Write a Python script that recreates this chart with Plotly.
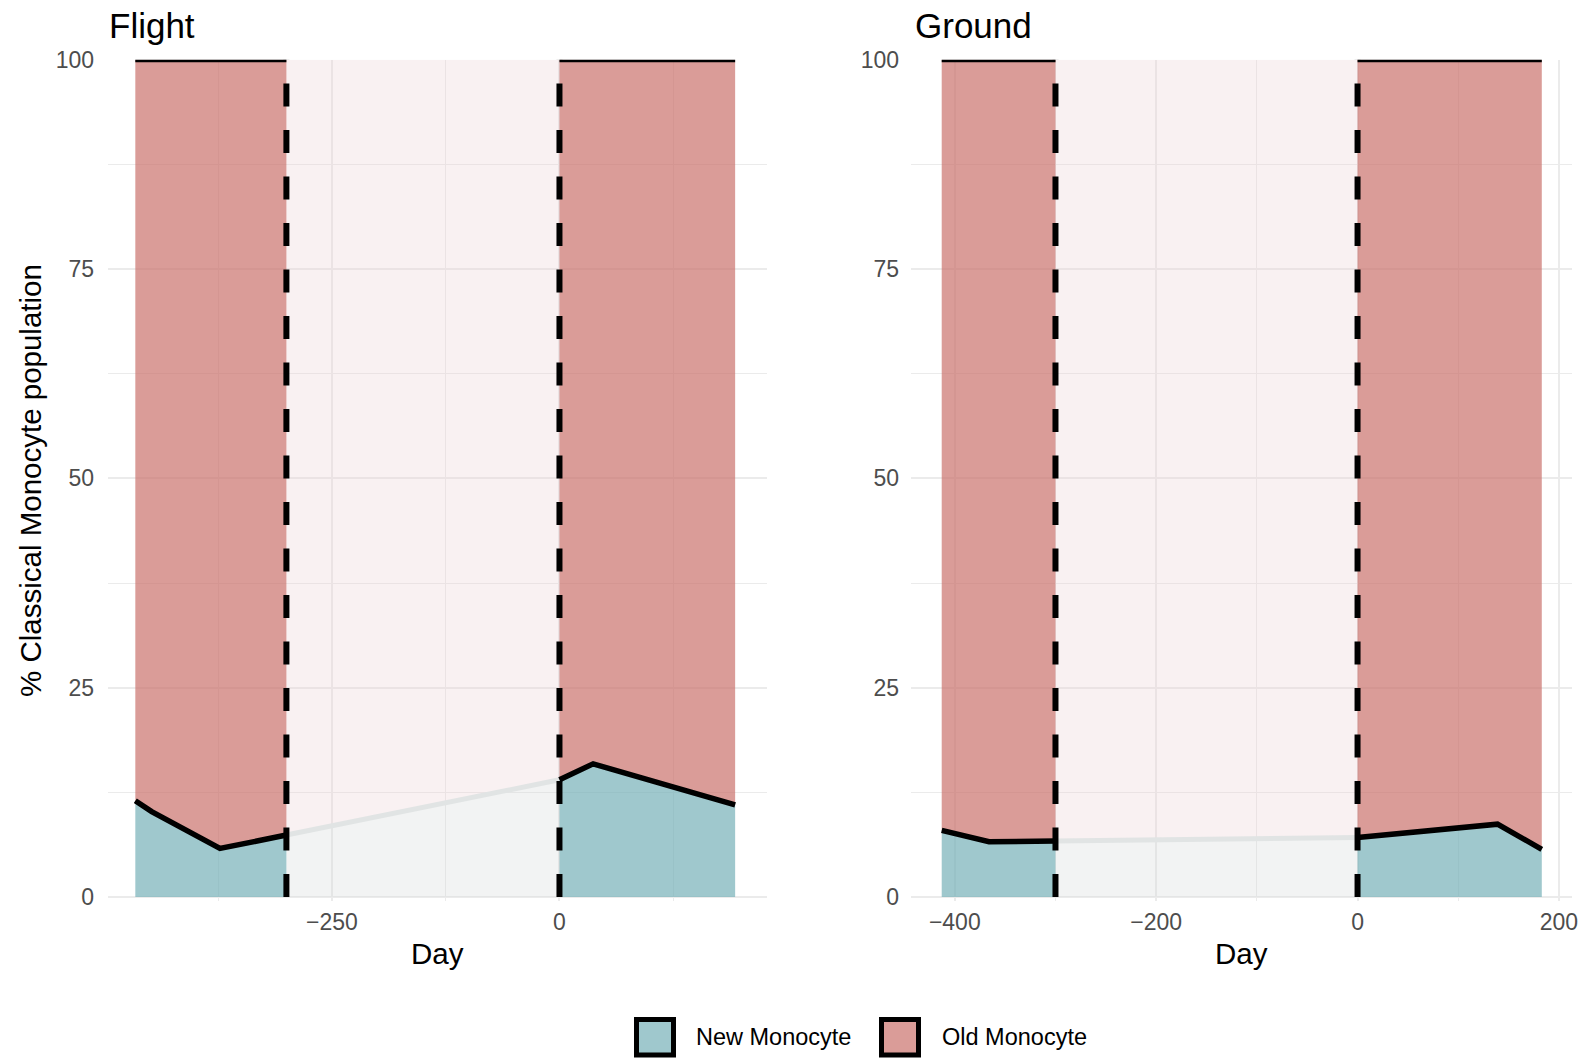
import plotly.graph_objects as go

FONT = "Liberation Sans, Arial, sans-serif"

# % of classical monocytes that are newly produced, before and after the mission
flight_pre_day = [-466, -448, -373, -300]
flight_pre_new = [11.5, 10.2, 5.8, 7.4]
flight_post_day = [0, 37, 193]
flight_post_new = [14.0, 15.9, 11.0]

ground_pre_day = [-413, -366, -300]
ground_pre_new = [7.95, 6.6, 6.7]
ground_post_day = [0, 139, 183]
ground_post_new = [7.1, 8.7, 5.7]

mission_bounds = [-300, 0]
panel_titles = ["Flight", "Ground"]
legend_labels = ["New Monocyte", "Old Monocyte"]
y_ticks = [0, 25, 50, 75, 100]

NEW_FILL = "rgba(118,176,184,0.70)"
OLD_FILL = "rgba(202,114,108,0.70)"
GAP_NEW = "rgba(212,215,215,0.30)"
GAP_OLD = "rgba(235,208,212,0.30)"
GRID = "#EBEBEB"

W, H = 1586, 1059
fig = go.Figure()


def add_panel(xa, ya, pre_d, pre_v, post_d, post_v):
    kw = dict(xaxis=xa, yaxis=ya, showlegend=False, hoverinfo="skip", mode="lines")
    # interpolated stretch across the mission (no samples)
    gd = [pre_d[-1], post_d[0]]
    gv = [pre_v[-1], post_v[0]]
    fig.add_trace(go.Scatter(x=gd, y=gv, fill="tozeroy", fillcolor=GAP_NEW,
                             line=dict(width=0), **kw))
    fig.add_trace(go.Scatter(x=gd, y=[100, 100], fill="tonexty", fillcolor=GAP_OLD,
                             line=dict(width=0), **kw))
    fig.add_trace(go.Scatter(x=gd, y=gv, line=dict(color="#E1E4E4", width=5), **kw))
    # sampled segments: new monocytes stacked under old monocytes
    for d, v in ((pre_d, pre_v), (post_d, post_v)):
        fig.add_trace(go.Scatter(x=d, y=v, fill="tozeroy", fillcolor=NEW_FILL,
                                 line=dict(width=0), **kw))
        fig.add_trace(go.Scatter(x=d, y=[100] * len(d), fill="tonexty", fillcolor=OLD_FILL,
                                 line=dict(width=0), **kw))
        fig.add_trace(go.Scatter(x=d, y=v, line=dict(color="black", width=5.5), **kw))
        fig.add_trace(go.Scatter(x=d, y=[100] * len(d), line=dict(color="black", width=5), **kw))
    # mission start / end markers
    for b in mission_bounds:
        fig.add_trace(go.Scatter(x=[b, b], y=[0, 100],
                                 line=dict(color="black", width=6, dash="23px,23.5px"), **kw))


add_panel("x", "y", flight_pre_day, flight_pre_new, flight_post_day, flight_post_new)
add_panel("x2", "y2", ground_pre_day, ground_pre_new, ground_post_day, ground_post_new)

y_dom = [1 - 901.2 / H, 1 - 59.7 / H]
tickfont = dict(family=FONT, size=23, color="#4D4D4D")
axis_common = dict(showgrid=True, gridcolor=GRID, gridwidth=2, zeroline=False,
                   showline=False, ticks="", tickfont=tickfont, automargin=False)
y_minor = dict(dtick=12.5, tick0=0, showgrid=True, gridcolor=GRID, gridwidth=1)

fig.update_layout(
    width=W, height=H,
    margin=dict(l=0, r=0, t=0, b=0, pad=0),
    paper_bgcolor="white", plot_bgcolor="white",
    font=dict(family=FONT),
    xaxis=dict(domain=[108 / W, 767 / W], range=[-496, 228], anchor="y",
               tickvals=[-250, 0], ticklabelstandoff=5,
               minor=dict(dtick=125, tick0=0, showgrid=True, gridcolor=GRID, gridwidth=1),
               **axis_common),
    yaxis=dict(domain=y_dom, range=[-0.5, 100], anchor="x", tickvals=y_ticks,
               ticklabelstandoff=13, minor=y_minor, **axis_common),
    xaxis2=dict(domain=[911 / W, 1572 / W], range=[-443.5, 213], anchor="y2",
                tickvals=[-400, -200, 0, 200], ticklabelstandoff=5,
                minor=dict(dtick=100, tick0=0, showgrid=True, gridcolor=GRID, gridwidth=1),
                **axis_common),
    yaxis2=dict(domain=y_dom, range=[-0.5, 100], anchor="x2", tickvals=y_ticks,
                ticklabelstandoff=11, minor=y_minor, **axis_common),
)

ann = []
# panel titles
for title, x in zip(panel_titles, [107, 913]):
    ann.append(dict(text=title, x=x / W, y=1 - 25 / H, xref="paper", yref="paper",
                    xanchor="left", yanchor="middle", showarrow=False,
                    font=dict(family=FONT, size=35, color="black")))
# x-axis titles
for x in [437, 1241]:
    ann.append(dict(text="Day", x=x / W, y=1 - 953 / H, xref="paper", yref="paper",
                    xanchor="center", yanchor="middle", showarrow=False,
                    font=dict(family=FONT, size=29.5, color="black")))
# y-axis title
ann.append(dict(text="% Classical Monocyte population", x=30 / W, y=1 - 481 / H,
                xref="paper", yref="paper", xanchor="center", yanchor="middle",
                textangle=-90, showarrow=False,
                font=dict(family=FONT, size=29.5, color="black")))

# legend: outlined colour keys with labels
shapes = []
for label, fill, kx, tx in zip(legend_labels, ["#9FC8CD", "#DA9C98"], [634, 879], [694, 940]):
    shapes.append(dict(type="rect", xref="paper", yref="paper",
                       x0=(kx + 2.5) / W, x1=(kx + 39.5) / W,
                       y0=1 - 1055 / H, y1=1 - 1019.5 / H,
                       fillcolor=fill, line=dict(color="black", width=5)))
    ann.append(dict(text=label, x=tx / W, y=1 - 1037 / H, xref="paper", yref="paper",
                    xanchor="left", yanchor="middle", showarrow=False,
                    font=dict(family=FONT, size=23.5, color="black")))

fig.update_layout(annotations=ann, shapes=shapes)
fig.write_html("out.html")
